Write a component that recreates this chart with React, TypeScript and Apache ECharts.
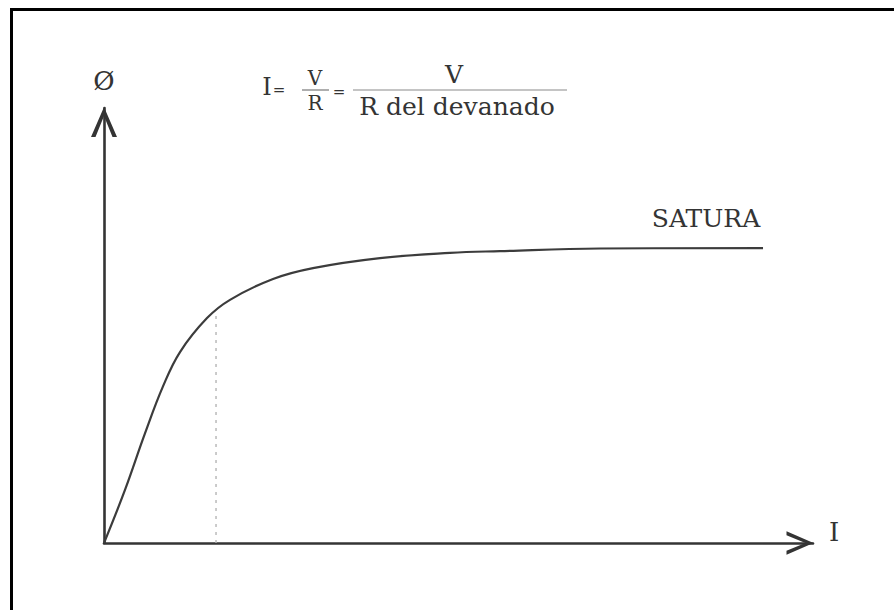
import React, { useEffect, useRef } from "react";
import * as echarts from "echarts";

// Magnetising current I (arbitrary units, 0..100 along the axis)
const currentValues = [0, 2.96, 5.78, 8.32, 10.72, 14.53, 17.77, 23.84, 29.48, 38.93, 48.8, 55.85, 69.96, 92.95];
// Magnetic flux Ø (arbitrary units, 0..100 along the axis)
const fluxValues = [0, 12.2, 25.2, 36.0, 43.9, 51.7, 55.9, 60.7, 63.2, 65.5, 66.7, 67.1, 67.7, 67.8];
// Knee of the curve (dotted guide line)
const kneeCurrent = [15.8, 15.8];
const kneeFlux = [0, 53];

const xAxisName = "I";
const yAxisName = "Ø";
const saturaLabel = "SATURA";
const formulaParts = { i: "I", eq: "=", v: "V", r: "R", denom: "R del devanado" };

const FONT = "DejaVu Serif";
const INK = "#343434";
const chevron = "path://M13,0 L26,30 L21.5,30 L13,9 L4.5,30 L0,30 Z";

export default function App() {
  const ref = useRef<HTMLDivElement>(null);
  useEffect(() => {
    if (!ref.current) return;
    const chart = echarts.init(ref.current, undefined, { renderer: "svg" });
    const curve = currentValues.map((x, i) => [x, fluxValues[i]]);
    const knee = kneeCurrent.map((x, i) => [x, kneeFlux[i]]);
    chart.setOption({
      animation: false,
      backgroundColor: "#ffffff",
      grid: { left: 104, top: 108, right: 81, bottom: 67, containLabel: false },
      xAxis: {
        type: "value",
        min: 0,
        max: 100,
        name: xAxisName,
        nameLocation: "end",
        nameGap: 16,
        nameTextStyle: { fontFamily: FONT, fontSize: 26, color: INK, verticalAlign: "bottom", padding: [0, 0, -2, 0] },
        axisLine: {
          show: true,
          onZero: false,
          symbol: ["none", chevron],
          symbolSize: [25, 27],
          symbolOffset: [0, -13],
          lineStyle: { color: INK, width: 2.6 },
        },
        axisTick: { show: false },
        axisLabel: { show: false },
        splitLine: { show: false },
      },
      yAxis: {
        type: "value",
        min: 0,
        max: 100,
        name: yAxisName,
        nameLocation: "end",
        nameGap: 14,
        nameTextStyle: { fontFamily: FONT, fontSize: 26, color: INK },
        axisLine: {
          show: true,
          onZero: false,
          symbol: ["none", chevron],
          symbolSize: [26, 30],
          symbolOffset: [0, -14],
          lineStyle: { color: INK, width: 2.6 },
        },
        axisTick: { show: false },
        axisLabel: { show: false },
        splitLine: { show: false },
      },
      series: [
        {
          type: "line",
          data: knee,
          showSymbol: false,
          silent: true,
          lineStyle: { color: "#b5b5b5", width: 1.4, type: [3, 5] },
        },
        {
          type: "line",
          data: curve,
          smooth: 0.4,
          showSymbol: false,
          lineStyle: { color: "#3c3c3c", width: 2.2 },
        },
      ],
      graphic: [
        {
          type: "polyline",
          shape: { points: [[11.5, 610], [11.5, 9.5], [894, 9.5]] },
          style: { stroke: "#000", lineWidth: 3, fill: "none" },
          silent: true,
        },
        {
          type: "text",
          x: 706,
          y: 218,
          style: { text: saturaLabel, font: `25px "${FONT}"`, fill: INK, textAlign: "center", textVerticalAlign: "middle" },
        },
        {
          type: "text",
          x: 267,
          y: 87,
          style: { text: formulaParts.i, font: `24px "${FONT}"`, fill: INK, textAlign: "center", textVerticalAlign: "middle" },
        },
        {
          type: "text",
          x: 279,
          y: 90,
          style: { text: formulaParts.eq, font: `15px "${FONT}"`, fill: INK, textAlign: "center", textVerticalAlign: "middle" },
        },
        {
          type: "text",
          x: 315,
          y: 78,
          style: { text: formulaParts.v, font: `20px "${FONT}"`, fill: INK, textAlign: "center", textVerticalAlign: "middle" },
        },
        {
          type: "line",
          shape: { x1: 302, y1: 90, x2: 329, y2: 90 },
          style: { stroke: "#777", lineWidth: 1.2 },
        },
        {
          type: "text",
          x: 315,
          y: 103,
          style: { text: formulaParts.r, font: `20px "${FONT}"`, fill: INK, textAlign: "center", textVerticalAlign: "middle" },
        },
        {
          type: "text",
          x: 339,
          y: 92,
          style: { text: formulaParts.eq, font: `15px "${FONT}"`, fill: INK, textAlign: "center", textVerticalAlign: "middle" },
        },
        {
          type: "text",
          x: 454,
          y: 74,
          style: { text: formulaParts.v, font: `25px "${FONT}"`, fill: INK, textAlign: "center", textVerticalAlign: "middle" },
        },
        {
          type: "line",
          shape: { x1: 353, y1: 90, x2: 567, y2: 90 },
          style: { stroke: "#8a8a8a", lineWidth: 1.2 },
        },
        {
          type: "text",
          x: 457,
          y: 106,
          style: { text: formulaParts.denom, font: `25px "${FONT}"`, fill: INK, textAlign: "center", textVerticalAlign: "middle" },
        },
      ],
    });
    return () => chart.dispose();
  }, []);
  return (
    <div
      ref={ref}
      style={{ position: "fixed", left: 0, top: 0, width: 894, height: 610, background: "#fff" }}
    />
  );
}
